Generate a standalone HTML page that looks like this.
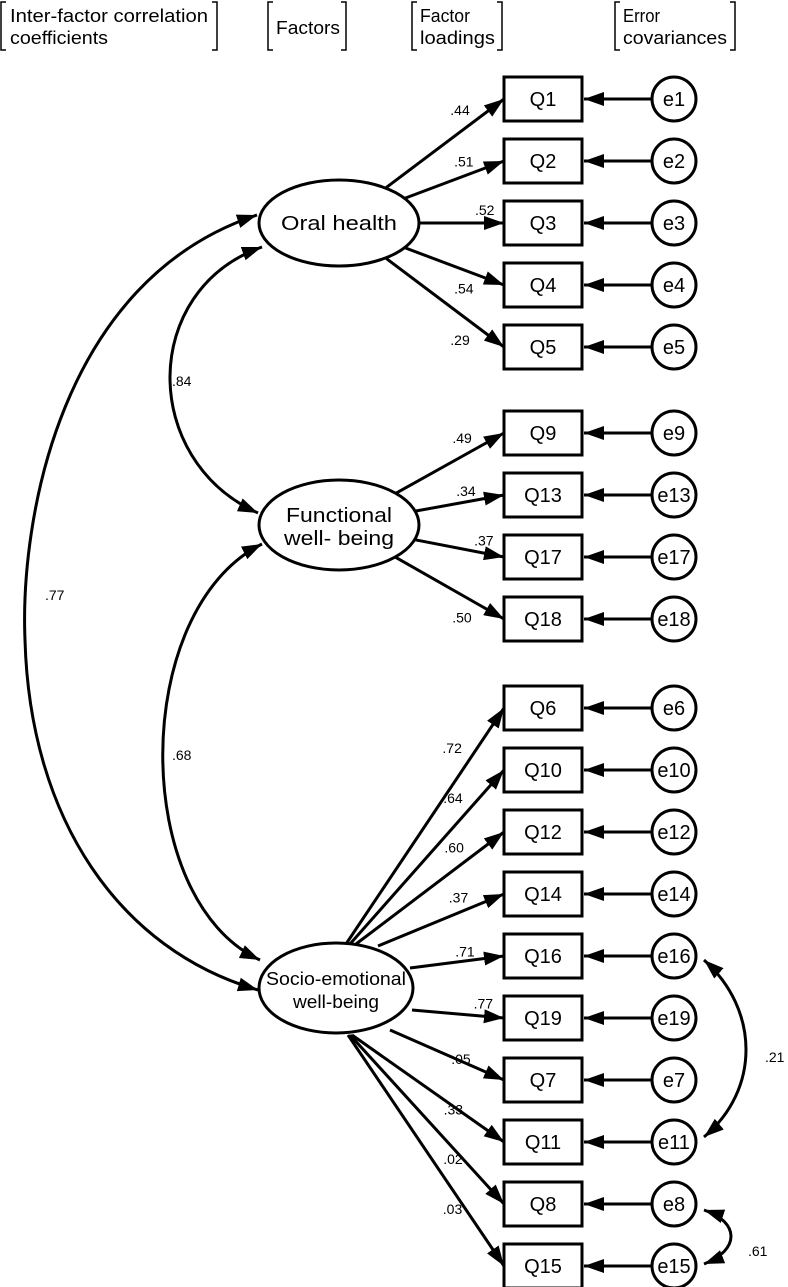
<!DOCTYPE html>
<html><head><meta charset="utf-8"><style>
html,body{margin:0;padding:0;background:#fff;}
svg{display:block;font-family:"Liberation Sans",sans-serif;}
</style></head><body>
<svg id="s" width="788" height="1287" viewBox="0 0 788 1287" xmlns="http://www.w3.org/2000/svg">
<defs>
<marker id="a" viewBox="0 0 20 14" refX="20" refY="7" markerWidth="20" markerHeight="14" markerUnits="userSpaceOnUse" orient="auto-start-reverse"><path d="M0,0L20,7L0,14z" fill="#000"/></marker>
</defs>
<g fill="none" stroke="#000" stroke-width="1.5">
<path d="M6,2H1V50H6M212,2H217V50H212"/>
<path d="M273,2H268V50H273M341,2H346V50H341"/>
<path d="M417,2H412V50H417M497,2H502V50H497"/>
<path d="M620,2H615V50H620M730,2H735V50H730"/>
</g>
<g font-size="18" fill="#000">
<text x="10" y="22" textLength="198" lengthAdjust="spacingAndGlyphs">Inter-factor correlation</text><text x="10" y="44" textLength="98" lengthAdjust="spacingAndGlyphs">coefficients</text>
<text x="276" y="34" textLength="64" lengthAdjust="spacingAndGlyphs">Factors</text>
<text x="420" y="22" textLength="50" lengthAdjust="spacingAndGlyphs">Factor</text><text x="420" y="44" textLength="75" lengthAdjust="spacingAndGlyphs">loadings</text>
<text x="623" y="22" textLength="37" lengthAdjust="spacingAndGlyphs">Error</text><text x="623" y="44" textLength="104" lengthAdjust="spacingAndGlyphs">covariances</text>
</g>
<g id="g" fill="none" stroke="#000" stroke-width="3"></g>
<g id="t" font-size="14" fill="#000"></g>
</svg>
<script>
var NS="http://www.w3.org/2000/svg",g=document.getElementById('g'),t=document.getElementById('t');
function el(n,a,p){var e=document.createElementNS(NS,n);for(var k in a)e.setAttribute(k,a[k]);(p||g).appendChild(e);return e;}
function txt(x,y,s,sz,anc,tl){var a={x:x,y:y,'font-size':sz||14,'text-anchor':anc||'start'};if(tl){a.textLength=tl;a.lengthAdjust='spacingAndGlyphs';}var e=el('text',a,t);e.textContent=s;}
var F=[{n:'oral',cx:339,cy:223,rx:80,ry:43,l:['Oral health'],w:[116]},{n:'fun',cx:339,cy:525,rx:80,ry:45,l:['Functional','well- being'],w:[106,110]},{n:'soc',cx:336,cy:988,rx:77,ry:45,l:['Socio-emotional','well-being'],w:[140,86]}];
F.forEach(function(f){el('ellipse',{cx:f.cx,cy:f.cy,rx:f.rx,ry:f.ry,fill:'#fff'});
 var sz=f.n=='soc'?18:20;
 if(f.l.length==1)txt(f.cx,f.cy+7,f.l[0],sz,'middle',f.w[0]);else{txt(f.cx,f.cy-3,f.l[0],sz,'middle',f.w[0]);txt(f.cx,f.cy+20,f.l[1],sz,'middle',f.w[1]);}});
var items=[['Q1',99,0,'.44'],['Q2',161,0,'.51'],['Q3',223,0,'.52'],['Q4',285,0,'.54'],['Q5',347,0,'.29'],
['Q9',433,1,'.49'],['Q13',495,1,'.34'],['Q17',557,1,'.37'],['Q18',619,1,'.50'],
['Q6',708,2,'.72'],['Q10',770,2,'.64'],['Q12',832,2,'.60'],['Q14',894,2,'.37'],['Q16',956,2,'.71'],['Q19',1018,2,'.77'],['Q7',1080,2,'.05'],['Q11',1142,2,'.33'],['Q8',1204,2,'.02'],['Q15',1266,2,'.03']];
var socStart={'Q6':[346,944],'Q10':[350,944],'Q12':[356,944],'Q14':[378,946],'Q16':[410,968],'Q19':[412,1010],'Q7':[390,1030],'Q11':[352,1035],'Q8':[350,1035],'Q15':[348,1035]};
items.forEach(function(it){var y=it[1],f=F[it[2]];
 el('rect',{x:504,y:y-22,width:78,height:44,fill:'#fff'});
 txt(543,y+7,it[0],20,'middle');
 el('circle',{cx:674,cy:y,r:22,fill:'#fff'});
 txt(674,y+7,'e'+it[0].slice(1),20,'middle');
 el('line',{x1:652,y1:y,x2:584,y2:y,'marker-end':'url(#a)'});
 var sx,sy;
 if(f.n=='soc'){sx=socStart[it[0]][0];sy=socStart[it[0]][1];}
 else{var dx=504-f.cx,dy=y-f.cy,k=1/Math.sqrt(dx*dx/(f.rx*f.rx)+dy*dy/(f.ry*f.ry));sx=f.cx+dx*k;sy=f.cy+dy*k;}
 el('line',{x1:sx,y1:sy,x2:504,y2:y,'marker-end':'url(#a)'});
 var lx=sx+(504-sx)*0.8,ly=sy+(y-sy)*0.8;
 if(y<sy-3)txt(lx-30,ly-2,it[3]);
 else if(y<=sy+25)txt(lx-12,ly-8,it[3]);
 else txt(lx-30,ly+(f.n=='soc'?-6:16),it[3]);
});
el('path',{d:'M257,215 C60,280 20,520 25,640 C30,820 120,950 258,990','marker-start':'url(#a)','marker-end':'url(#a)'});
el('path',{d:'M262,247 C140,290 140,460 258,513','marker-start':'url(#a)','marker-end':'url(#a)'});
el('path',{d:'M262,544 C130,610 130,900 260,960','marker-start':'url(#a)','marker-end':'url(#a)'});
txt(172,386,'.84');txt(45,600,'.77');txt(172,760,'.68');
el('path',{d:'M704,960 C760,1010 760,1090 704,1137','marker-start':'url(#a)','marker-end':'url(#a)'});
el('path',{d:'M704,1210 C740,1222 740,1250 704,1264','marker-start':'url(#a)','marker-end':'url(#a)'});
txt(765,1062,'.21');txt(748,1256,'.61');
</script>
</body></html>
